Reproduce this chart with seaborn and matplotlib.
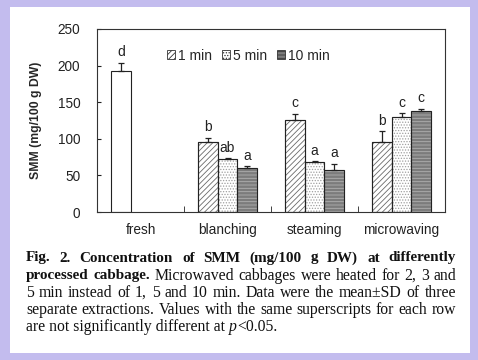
import pandas as pd
import seaborn as sns
import matplotlib
matplotlib.use("Agg")
import matplotlib.pyplot as plt
from matplotlib.patches import Rectangle

# data
categories = ["fresh", "blanching", "steaming", "microwaving"]
times = ["1 min", "5 min", "10 min"]
fresh_mean = [192]
fresh_sd = [12]
blanching_mean = [96, 73, 60]
blanching_sd = [5, 0.5, 2.5]
steaming_mean = [126, 68, 58]
steaming_sd = [8, 1, 8]
microwaving_mean = [95, 130, 138]
microwaving_sd = [15, 5, 3]
letters = {"fresh": ["d"], "blanching": ["b", "ab", "a"],
           "steaming": ["c", "a", "a"], "microwaving": ["b", "c", "c"]}
yticks = [0, 50, 100, 150, 200, 250]

rows = [("fresh", times[0], fresh_mean[0], fresh_sd[0])]
for cat, m, s in [("blanching", blanching_mean, blanching_sd),
                  ("steaming", steaming_mean, steaming_sd),
                  ("microwaving", microwaving_mean, microwaving_sd)]:
    for t, mv, sv in zip(times, m, s):
        rows.append((cat, t, mv, sv))
df = pd.DataFrame(rows, columns=["process", "time", "smm", "sd"])

sns.set_style("white")
plt.rcParams["font.family"] = ["Liberation Sans", "DejaVu Sans"]
plt.rcParams["hatch.linewidth"] = 0.6

W, H = 478, 360
fig = plt.figure(figsize=(W / 100, H / 100), dpi=100, facecolor="#c3bcee")
fig.patches.append(Rectangle((10 / W, 7 / H), 460 / W, 346 / H, transform=fig.transFigure,
                             facecolor="white", edgecolor="none", zorder=-5))

ax = fig.add_axes([97 / W, 1 - 212 / H, 348 / W, 183 / H])
ax.set_zorder(2)
sns.barplot(data=df, x="process", y="smm", hue="time", order=categories, hue_order=times,
            errorbar=None, width=0.67, legend=False, ax=ax)

styles = {
    "1 min": dict(facecolor="white", hatch="//////", edgecolor="#6a6a6a"),
    "5 min": dict(facecolor="white", hatch="......", edgecolor="#a0a0a0"),
    "10 min": dict(facecolor="#7c7c7c", hatch="-----", edgecolor="#b0b0b0"),
}

for cont, t in zip(ax.containers, times):
    for p in cont.patches:
        x0, w, h = p.get_x(), p.get_width(), p.get_height()
        ci = int(round(x0 + w / 2))
        cat = categories[ci]
        if cat == "fresh":
            p.set_facecolor("white")
            p.set_hatch(None)
            p.set_edgecolor("#222222")
        else:
            p.set(**styles[t])
            ax.add_patch(Rectangle((x0, 0), w, h, fill=False, edgecolor="#222222",
                                   linewidth=0.8, zorder=3))
        p.set_linewidth(0.8)
        sub = df[(df.process == cat) & (df.time == t)]
        sd = sub.sd.iloc[0]
        ax.errorbar(x0 + w / 2, h, yerr=[[0], [sd]], fmt="none", ecolor="#222222",
                    elinewidth=0.9, capsize=2.5, capthick=0.9, zorder=4)
        ti = times.index(t)
        ax.text(x0 + w / 2, h + sd + 5, letters[cat][ti], ha="center", va="bottom",
                fontsize=10, color="#222222")

ax.set_xlim(-0.5, 3.5)
ax.set_ylim(0, 250)
ax.set_yticks(yticks)
ax.set_xticks(range(4))
ax.set_xticklabels(categories, fontsize=9.8)
ax.set_xticks([0.5, 1.5, 2.5], minor=True)
ax.tick_params(axis="x", which="major", length=0, pad=8, colors="#222222")
ax.tick_params(axis="x", which="minor", length=4, direction="in", bottom=True, color="#222222")
ax.tick_params(axis="y", length=3, direction="in", left=True, labelsize=9.8, pad=12, colors="#222222")
ax.set_xlabel("")
ax.set_ylabel("SMM (mg/100 g DW)", fontsize=8.8, fontweight="bold", labelpad=11)
for sp in ax.spines.values():
    sp.set_color("#333333")
    sp.set_linewidth(0.8)

handles = [Rectangle((0, 0), 1, 1, linewidth=0.6, **{**styles[t], "edgecolor": "#333333"})
           for t in times]
ax.legend(handles, times, loc="center", bbox_to_anchor=(0.435, 0.855), ncol=3, frameon=False,
          fontsize=10, handlelength=0.6, handleheight=0.6, handletextpad=0.2,
          columnspacing=0.7)

# caption, justified line by line
caption = [
    [("Fig. 2. Concentration of SMM (mg/100 g DW) at differently", "bold", "normal")],
    [("processed cabbage.", "bold", "normal"),
     ("Microwaved cabbages were heated for 2, 3 and", "normal", "normal")],
    [("5 min instead of 1, 5 and 10 min. Data were the mean±SD of three", "normal", "normal")],
    [("separate extractions. Values with the same superscripts for each row", "normal", "normal")],
    [("are not significantly different at", "normal", "normal"),
     ("p", "normal", "italic"), ("<0.05.", "normal", "normal")],
]
line_y = [258, 276, 293, 310, 327]
x_left, x_right = 26, 456
cap_sizes = {"bold": 10.9, "normal": 11.3}
renderer = fig.canvas.get_renderer()


def put(x, y, s, weight, style):
    return fig.text(x / W, 1 - y / H, s, fontweight=weight, fontstyle=style, va="center",
                    family="Liberation Serif", fontsize=cap_sizes[weight], color="#111111")


def measure(s, weight, style):
    t = put(0, 0, s, weight, style)
    w = t.get_window_extent(renderer).width
    t.remove()
    return w


space_w = measure("a a", "normal", "normal") - measure("aa", "normal", "normal")
for li, (line, y) in enumerate(zip(caption, line_y)):
    if li < len(caption) - 1:
        words = []
        for s, wt, st in line:
            words += [(wd, wt, st) for wd in s.split(" ")]
        widths = [measure(wd, wt, st) for wd, wt, st in words]
        gap = (x_right - x_left - sum(widths)) / (len(words) - 1)
        x = x_left
        for (wd, wt, st), wdt in zip(words, widths):
            put(x, y, wd, wt, st)
            x += wdt + gap
    else:
        x = x_left
        for i, (s, wt, st) in enumerate(line):
            put(x, y, s, wt, st)
            x += measure(s, wt, st) + (space_w if i == 0 else 0)

fig.savefig("out.png", dpi=100, facecolor=fig.get_facecolor())
